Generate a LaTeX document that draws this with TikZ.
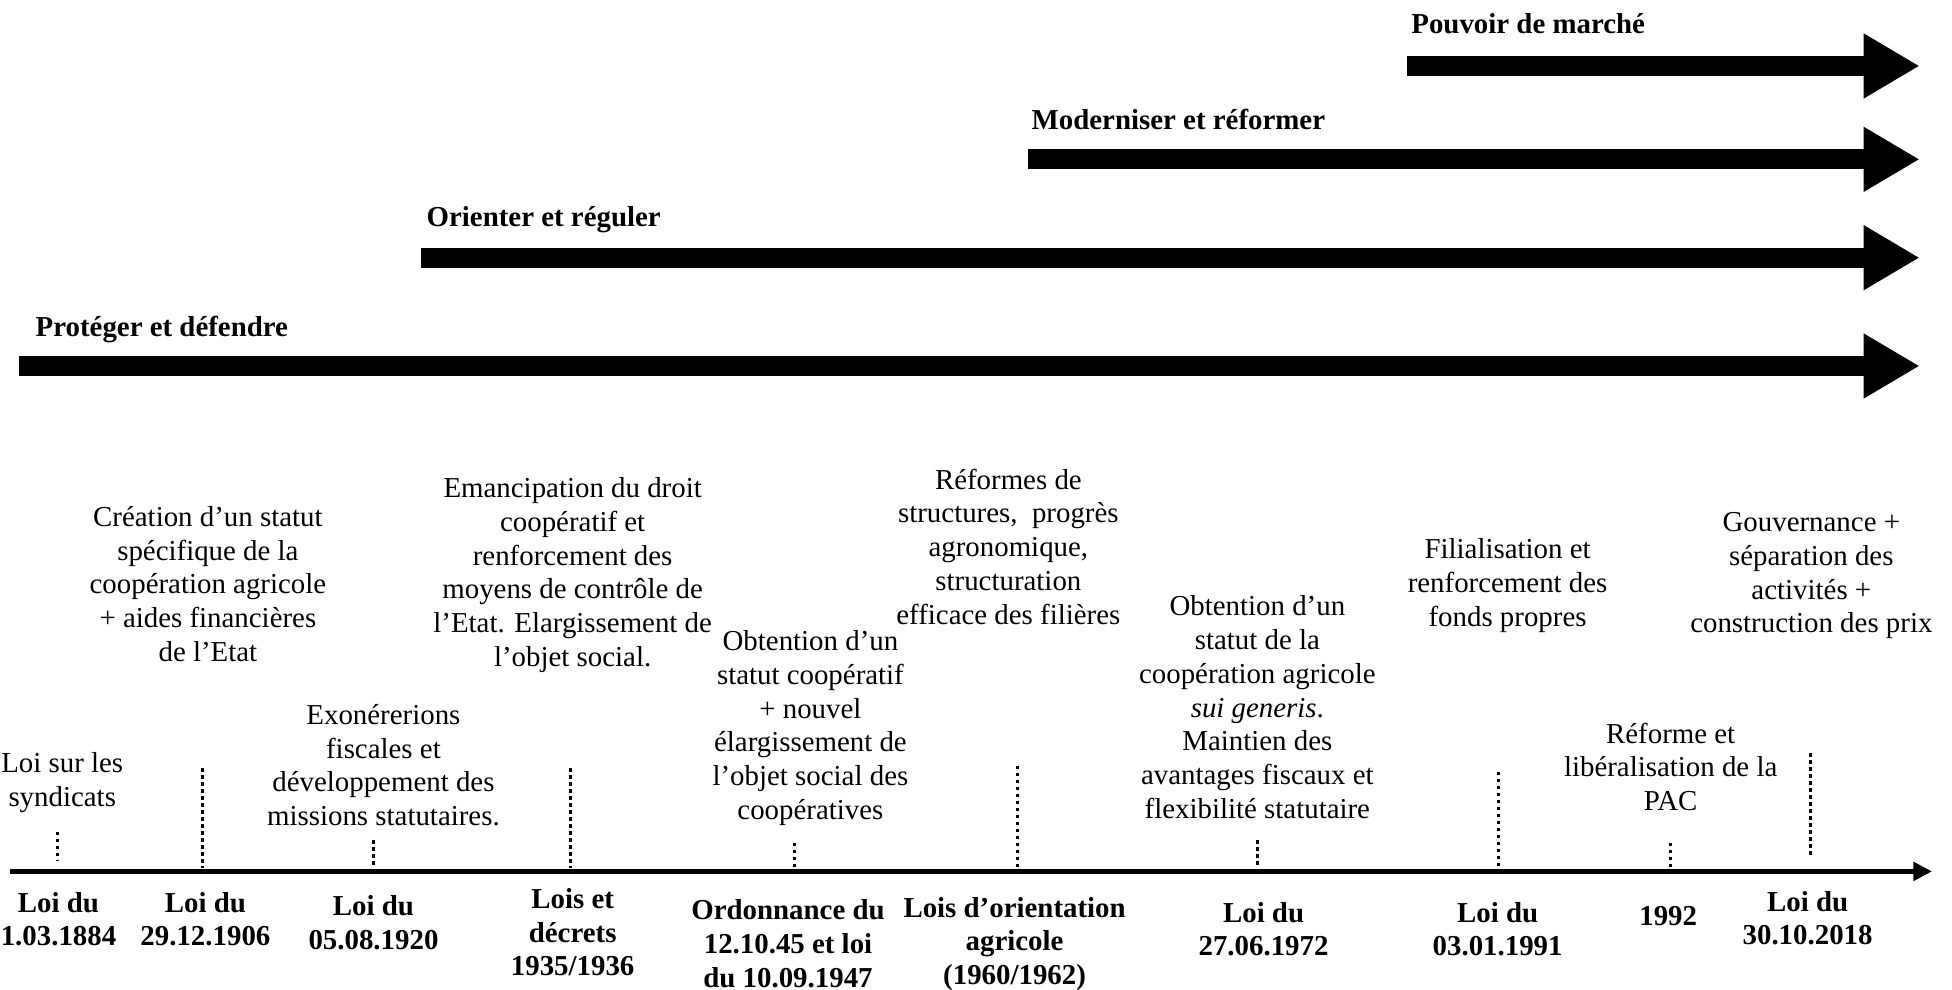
\documentclass[tikz,border=0pt]{standalone}
\usepackage{fontspec}
\setmainfont{Liberation Serif}
\usetikzlibrary{arrows.meta}

\begin{document}
\fontsize{6.6}{7.7}\selectfont
\begin{tikzpicture}[
  phase/.style={line width=1.6mm, -{Triangle[length=4.5mm, width=4.9mm]}},
  phasename/.style={anchor=base west, inner sep=0pt, font=\bfseries},
  event/.style={anchor=north, align=center, inner sep=0pt},
  law/.style={anchor=north, align=center, inner sep=0pt, font=\bfseries},
  tick/.style={line width=0.7pt, dash pattern=on 0.8pt off 0.8pt}
]
  \useasboundingbox (0,0) rectangle (15.68,-7.95);

  % Phases
  \coordinate (pouvoirA) at (11.30,-0.53);
  \coordinate (pouvoirB) at (15.42,-0.53);
  \coordinate (moderniserA) at (8.26,-1.28);
  \coordinate (moderniserB) at (15.42,-1.28);
  \coordinate (orienterA) at (3.38,-2.07);
  \coordinate (orienterB) at (15.42,-2.07);
  \coordinate (protegerA) at (0.15,-2.94);
  \coordinate (protegerB) at (15.42,-2.94);
  \node[phasename] (pouvoir) at (11.33,-0.27) {Pouvoir de marché};
  \node[phasename] (moderniser) at (8.28,-1.04) {Moderniser et réformer};
  \node[phasename] (orienter) at (3.42,-1.82) {Orienter et réguler};
  \node[phasename] (proteger) at (0.28,-2.70) {Protéger et défendre};
  \draw[phase] (pouvoirA) -- (pouvoirB);
  \draw[phase] (moderniserA) -- (moderniserB);
  \draw[phase] (orienterA) -- (orienterB);
  \draw[phase] (protegerA) -- (protegerB);

  % Time axis
  \coordinate (axisA) at (0.08,-7.00);
  \coordinate (axisB) at (15.52,-7.00);
  \draw[line width=1.1pt, -{Triangle[length=1.5mm, width=1.45mm]}] (axisA) -- (axisB);

  % Laws
  \node[law] (law1884) at (0.47,-7.16) {Loi du\\1.03.1884};
  \node[law] (law1906) at (1.65,-7.16) {Loi du\\29.12.1906};
  \node[law] (law1920) at (3.00,-7.19) {Loi du\\05.08.1920};
  \node[law] (law1935) at (4.60,-7.13) {Lois et\\décrets\\1935/1936};
  \node[law] (law1947) at (6.33,-7.22) {Ordonnance du\\12.10.45 et loi\\du 10.09.1947};
  \node[law] (law1960) at (8.15,-7.20) {Lois d’orientation\\agricole\\(1960/1962)};
  \node[law] (law1972) at (10.15,-7.24) {Loi du\\27.06.1972};
  \node[law] (law1991) at (12.03,-7.24) {Loi du\\03.01.1991};
  \node[law] (law1992) at (13.40,-7.27) {1992};
  \node[law] (law2018) at (14.52,-7.15) {Loi du\\30.10.2018};

  % Events
  \node[event] (syndicats) at (0.50,-6.04) {Loi sur les\\syndicats};
  \node[event] (statut) at (1.67,-4.06) {Création d’un statut\\spécifique de la\\coopération agricole\\+ aides financières\\de l’Etat};
  \node[event] (exonerations) at (3.08,-5.65) {Exonérerions\\fiscales et\\développement des\\missions statutaires.};
  \node[event] (emancipation) at (4.60,-3.83) {Emancipation du droit\\coopératif et\\renforcement des\\moyens de contrôle de\\l’Etat. Elargissement de\\l’objet social.};
  \node[event] (obtention) at (6.51,-5.06) {Obtention d’un\\statut coopératif\\+ nouvel\\élargissement de\\l’objet social des\\coopératives};
  \node[event] (reformes) at (8.10,-3.76) {Réformes de\\structures,~ progrès\\agronomique,\\structuration\\efficace des filières};
  \node[event] (generis) at (10.10,-4.78) {Obtention d’un\\statut de la\\coopération agricole\\\textit{sui generis}.\\Maintien des\\avantages fiscaux et\\flexibilité statutaire};
  \node[event] (filialisation) at (12.11,-4.32) {Filialisation et\\renforcement des\\fonds propres};
  \node[event] (pac) at (13.42,-5.80) {Réforme et\\libéralisation de la\\PAC};
  \node[event] (gouvernance) at (14.55,-4.11) {Gouvernance +\\séparation des\\activités +\\construction des prix};

  % Ticks
  \coordinate (t1) at (0.46,-6.68);  \coordinate (a1) at (0.46,-6.92);
  \coordinate (t2) at (1.63,-6.17);  \coordinate (a2) at (1.63,-6.97);
  \coordinate (t3) at (3.00,-6.75);  \coordinate (a3) at (3.00,-6.97);
  \coordinate (t4) at (4.58,-6.17);  \coordinate (a4) at (4.58,-6.97);
  \coordinate (t5) at (6.38,-6.77);  \coordinate (a5) at (6.38,-6.97);
  \coordinate (t6) at (8.17,-6.15);  \coordinate (a6) at (8.17,-6.97);
  \coordinate (t7) at (10.10,-6.75); \coordinate (a7) at (10.10,-6.97);
  \coordinate (t8) at (12.04,-6.20); \coordinate (a8) at (12.04,-6.97);
  \coordinate (t9) at (13.42,-6.77); \coordinate (a9) at (13.42,-6.97);
  \coordinate (t10) at (14.54,-6.05); \coordinate (a10) at (14.54,-6.88);
  \foreach \i in {1,...,10}
    \draw[tick] (t\i) -- (a\i);
\end{tikzpicture}
\end{document}
